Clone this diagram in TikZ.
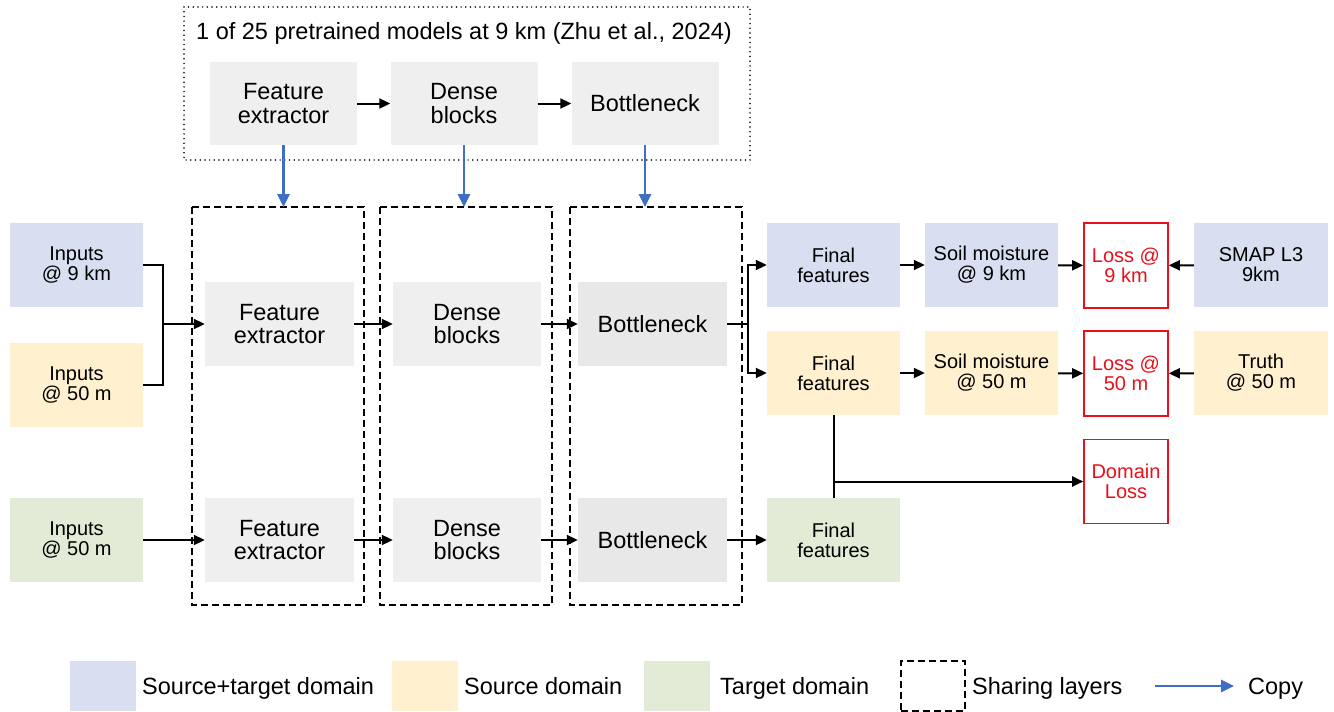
\documentclass[tikz,border=0pt]{standalone}
\usepackage{fontspec}
\setmainfont{Liberation Sans}
\usetikzlibrary{arrows.meta}
\definecolor{stblue}{HTML}{D9DFF0}
\definecolor{srcyel}{HTML}{FFF0D0}
\definecolor{tgtgrn}{HTML}{E2EBD5}
\definecolor{lyrgray}{HTML}{EFEFEF}
\definecolor{bngray}{HTML}{E8E8E8}
\definecolor{lossred}{HTML}{E8101A}
\definecolor{copyblue}{HTML}{3F6FC4}
\begin{document}
\begin{tikzpicture}[x=1pt,y=-1pt,
  box/.style={inner sep=0pt, align=center, font=\fontsize{20}{20}\selectfont,
    minimum width=133pt, minimum height=84pt},
  layer/.style={box, fill=lyrgray, minimum width=148pt, font=\fontsize{23.5}{23.5}\selectfont},
  lossbox/.style={box, draw=lossred, line width=1.6pt, text=lossred, minimum width=84pt},
  arr/.style={-{Triangle[length=11pt,width=10pt]}, line width=2pt},
  plain/.style={line width=2pt},
  copyarr/.style={-{Triangle[length=13pt,width=12pt]}, line width=2.8pt, draw=copyblue},
  share/.style={draw, line width=1.5pt, dash pattern=on 7pt off 4pt},
  legtext/.style={anchor=base west, inner sep=0pt, font=\fontsize{23.5}{23.5}\selectfont}
]
\useasboundingbox (0,0) rectangle (1334,712);

% pretrained model
\draw[line width=1.7pt, line cap=round, dash pattern=on 0pt off 4.7pt] (184,7) rectangle (750,160);
\node[inner sep=0pt, font=\fontsize{23.5}{23.5}\selectfont] (title) at (464,33)
  {1 of 25 pretrained models at 9 km (Zhu et al., 2024)};
\node[layer, minimum width=147pt, minimum height=83pt] (tfe) at (283.5,103.5) {Feature\\extractor};
\node[layer, minimum width=147pt, minimum height=83pt] (tdb) at (464,103.5) {Dense\\blocks};
\node[layer, minimum width=147pt, minimum height=83pt] (tbn) at (645,103.5) {Bottleneck};
\draw[arr] (tfe) -- (tdb);
\draw[arr] (tdb) -- (tbn);

% sharing layers
\draw[share] (192,207) rectangle (364,605);
\draw[share] (380,207) rectangle (552,605);
\draw[share] (570,207) rectangle (742,605);
\coordinate (sh1) at (283.5,207);
\coordinate (sh2) at (464,207);
\coordinate (sh3) at (645,207);
\draw[copyarr] (tfe.south) -- (sh1);
\draw[copyarr] (tdb.south) -- (sh2);
\draw[copyarr] (tbn.south) -- (sh3);

% inputs
\node[box, fill=stblue] (in9) at (76.5,265) {Inputs\\@ 9 km};
\node[box, fill=srcyel] (in50s) at (76.5,385) {Inputs\\@ 50 m};
\node[box, fill=tgtgrn] (in50t) at (76.5,540) {Inputs\\@ 50 m};

% network rows
\node[layer, minimum width=149pt] (fe1) at (279.5,324) {Feature\\extractor};
\node[layer] (db1) at (467,324) {Dense\\blocks};
\node[layer, fill=bngray, minimum width=149pt] (bn1) at (652.5,324) {Bottleneck};
\node[layer, minimum width=149pt] (fe2) at (279.5,540) {Feature\\extractor};
\node[layer] (db2) at (467,540) {Dense\\blocks};
\node[layer, fill=bngray, minimum width=149pt] (bn2) at (652.5,540) {Bottleneck};

\coordinate (jn) at (163,324);
\draw[plain] (in9.east) -| (jn);
\draw[plain] (in50s.east) -| (jn);
\draw[arr] (jn) -- (fe1.west);
\draw[arr] (fe1) -- (db1);
\draw[arr] (db1) -- (bn1);
\draw[arr] (in50t) -- (fe2);
\draw[arr] (fe2) -- (db2);
\draw[arr] (db2) -- (bn2);

% heads and losses
\node[box, fill=stblue] (ff1) at (833.5,265) {Final\\features};
\node[box, fill=stblue] (sm1) at (991.5,265) {Soil moisture\\@ 9 km};
\node[lossbox, minimum height=85pt] (l1) at (1126,265.5) {Loss @\\9 km};
\node[box, fill=stblue, minimum width=134pt] (smap) at (1261,265) {SMAP L3\\9km};
\node[box, fill=srcyel] (ff2) at (833.5,373) {Final\\features};
\node[box, fill=srcyel] (sm2) at (991.5,373) {Soil moisture\\@ 50 m};
\node[lossbox, minimum height=85pt] (l2) at (1126,373.5) {Loss @\\50 m};
\node[box, fill=srcyel, minimum width=134pt] (truth) at (1261,373) {Truth\\@ 50 m};
\node[lossbox] (dl) at (1126,481.5) {Domain\\Loss};
\node[box, fill=tgtgrn] (ff3) at (833.5,540) {Final\\features};

\coordinate (sp) at (748,324);
\draw[plain] (bn1.east) -- (sp);
\draw[arr] (sp) |- (ff1.west);
\draw[arr] (sp) |- (ff2.west);
\draw[arr] (bn2) -- (ff3);
\draw[arr] (ff1) -- (sm1);
\draw[arr] (sm1) -- (l1);
\draw[arr] (smap) -- (l1);
\draw[arr] (ff2) -- (sm2);
\draw[arr] (sm2) -- (l2);
\draw[arr] (truth) -- (l2);
\draw[plain] (ff2.south) -- (ff3.north);
\coordinate (dj) at (ff2.south |- dl.west);
\draw[arr] (dj) -- (dl.west);

% legend
\node[inner sep=0pt, fill=stblue, minimum width=66pt, minimum height=50pt] (lg1) at (103,686) {};
\node[legtext] (lt1) at (142,694.5) {Source+target domain};
\node[inner sep=0pt, fill=srcyel, minimum width=66pt, minimum height=50pt] (lg2) at (425,686) {};
\node[legtext] (lt2) at (464,694.5) {Source domain};
\node[inner sep=0pt, fill=tgtgrn, minimum width=66pt, minimum height=50pt] (lg3) at (677,686) {};
\node[legtext] (lt3) at (720,694.5) {Target domain};
\node[share, inner sep=0pt, minimum width=64pt, minimum height=50pt] (lg4) at (933,686) {};
\node[legtext] (lt4) at (972,694.5) {Sharing layers};
\coordinate (ca) at (1155,686);
\coordinate (cb) at (1234,686);
\draw[copyarr] (ca) -- (cb);
\node[legtext] (lt5) at (1248,694.5) {Copy};
\end{tikzpicture}
\end{document}
